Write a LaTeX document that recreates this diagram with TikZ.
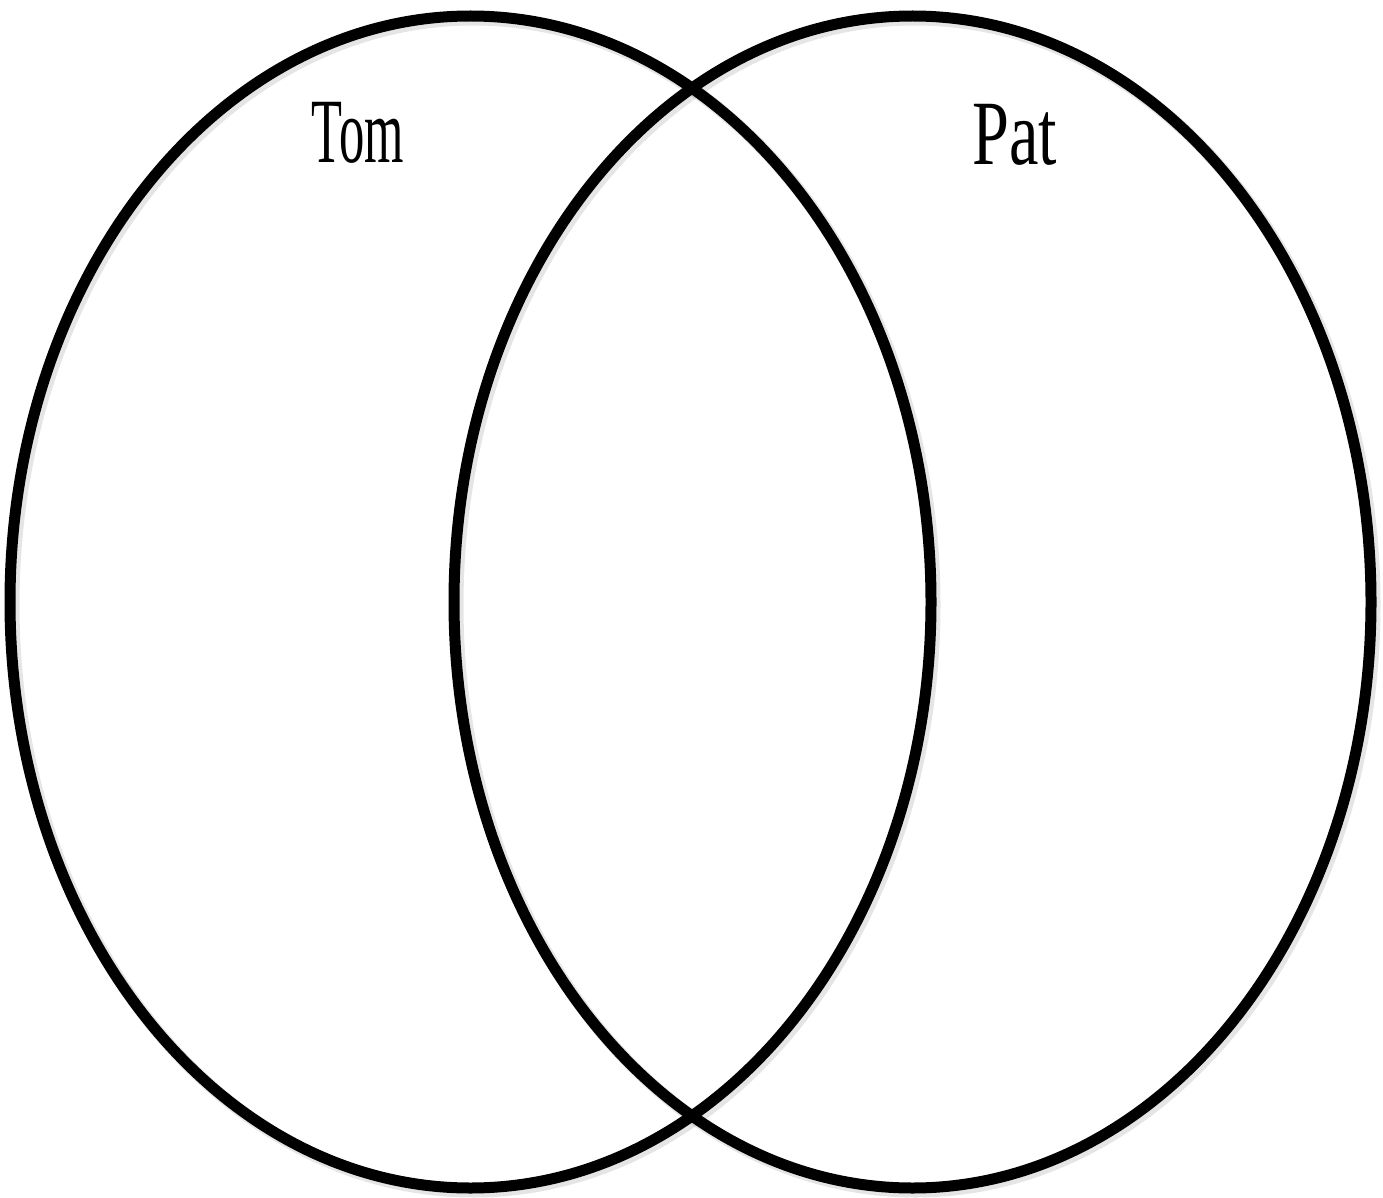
\documentclass[tikz,border=0pt]{standalone}
\usepackage{fontspec}
\setmainfont{Liberation Serif}
\begin{document}
\begin{tikzpicture}[x=1pt,y=-1pt,
  ring/.style={draw=black,line width=11pt},
  ringshadow/.style={draw=black,line width=13pt,opacity=0.10},
  label/.style={font=\fontsize{92}{92}\selectfont,inner sep=0pt}]
\useasboundingbox[fill=white] (0,0) rectangle (1383,1198);
% soft shadows
\draw[ringshadow] (473.5,605) ellipse [x radius=460.5, y radius=586];
\draw[ringshadow] (915.5,605) ellipse [x radius=458.5, y radius=586];
% circles
\draw[ring] (470.5,602) ellipse [x radius=460.5, y radius=586];
\draw[ring] (912.5,602) ellipse [x radius=458.5, y radius=586];
% labels
\node[label,xscale=0.55] (tom) at (358,133) {Tom};
\node[label,xscale=0.72] (pat) at (1015,135) {Pat};
\end{tikzpicture}
\end{document}
